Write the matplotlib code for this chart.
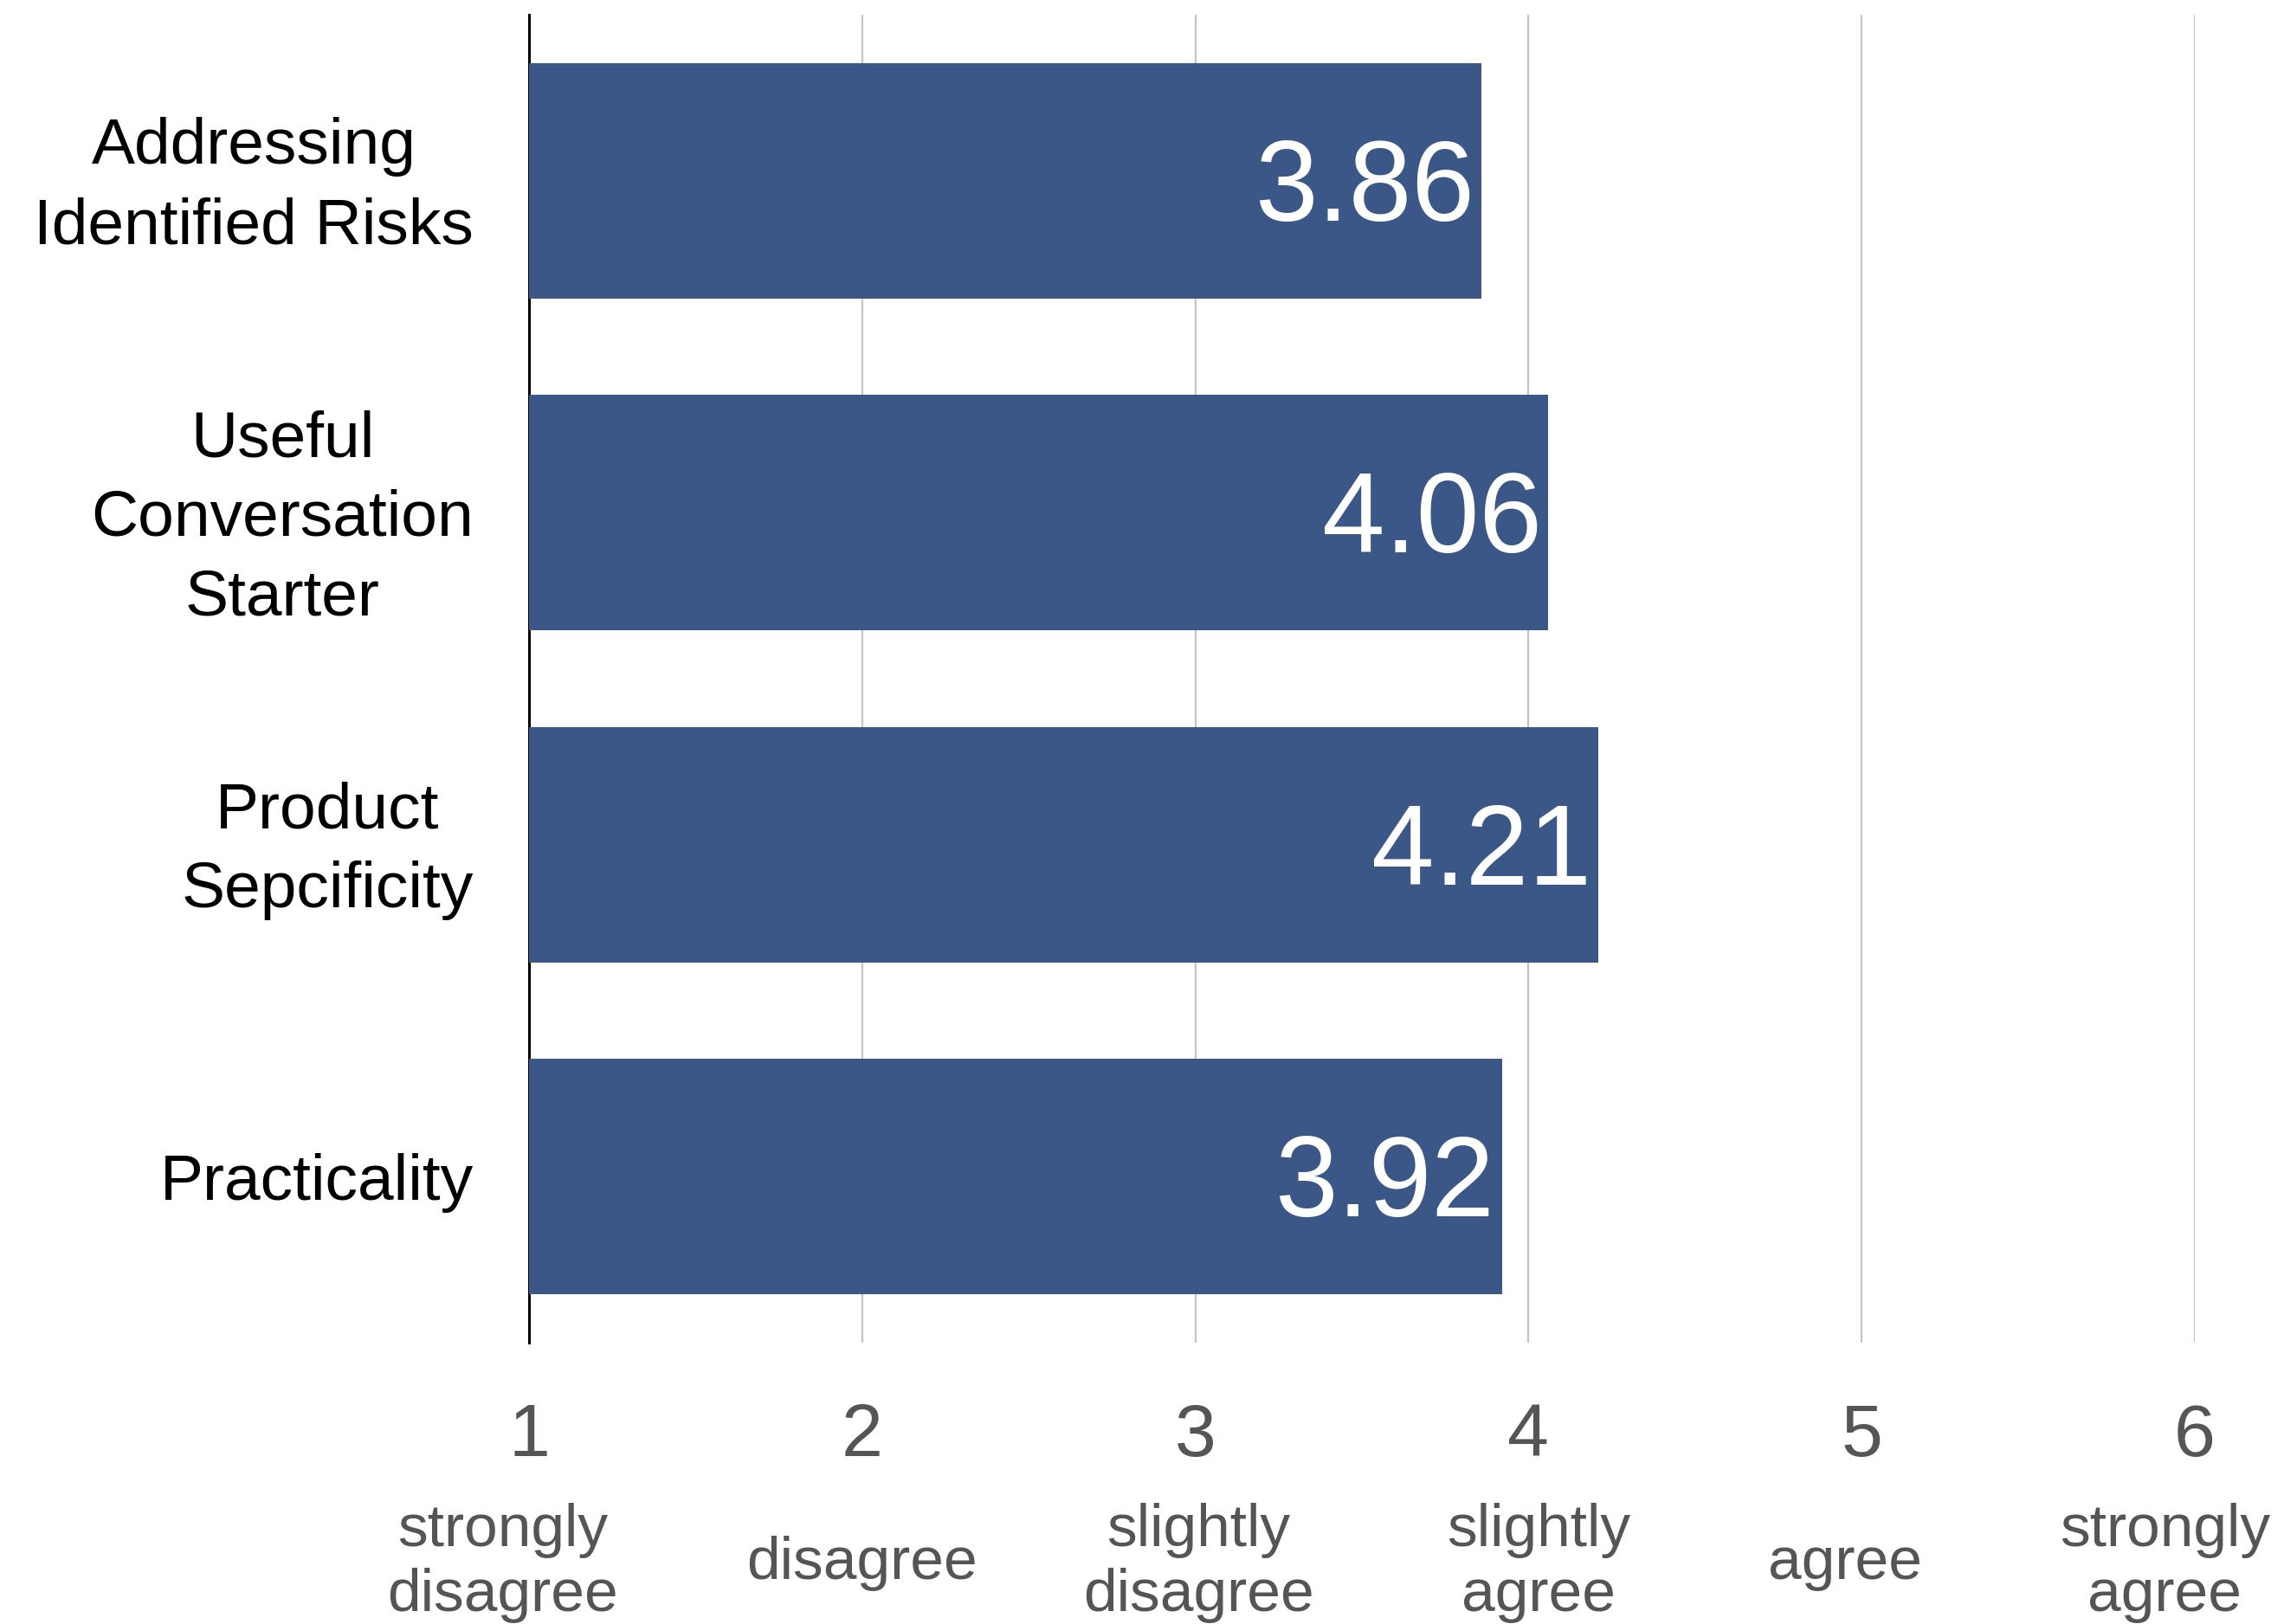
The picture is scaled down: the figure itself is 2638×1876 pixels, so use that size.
import matplotlib
matplotlib.use('Agg')
import matplotlib.pyplot as plt
import numpy as np

plt.rcParams['font.family'] = ['Liberation Sans', 'DejaVu Sans']

categories = ['Addressing\nIdentified Risks', 'Useful\nConversation\nStarter',
              'Product\nSepcificity', 'Practicality']
scores = [3.86, 4.06, 4.21, 3.92]
scale_ticks = [1, 2, 3, 4, 5, 6]
scale_names = ['strongly\ndisagree', 'disagree', 'slightly\ndisagree',
               'slightly\nagree', 'agree', 'strongly\nagree']
name_nudge = [-0.08, 0.0, 0.01, 0.03, -0.05, -0.09]

bar_color = '#3a5787'
grey = '#555555'

fig = plt.figure(figsize=(26.38, 18.76), dpi=100)
ax = fig.add_axes([0.2316, 0.1732, 0.7293, 0.8177])

ypos = np.arange(len(categories))
ax.barh(ypos, [s - 1 for s in scores], left=1, height=0.71, color=bar_color, zorder=3)

for y, s in zip(ypos, scores):
    ax.text(s - 0.02, y + 0.03, f'{s:.2f}', ha='right', va='center',
            color='white', fontsize=94, zorder=4)

ax.set_xlim(1, 6)
ax.set_ylim(len(categories) - 0.5, -0.5)

# category labels, drawn by hand so multi-line blocks sit centred on the bars
ax.set_yticks([])
for y, cat in zip(ypos, categories):
    ax.text(-0.0333, y + 0.018, cat, transform=ax.get_yaxis_transform(),
            ha='right', va='center', multialignment='center',
            fontsize=54, color='black', linespacing=1.42)

ax.set_xticks(scale_ticks)
ax.set_xticklabels([])
ax.tick_params(axis='x', length=0)
for x, name, dx in zip(scale_ticks, scale_names, name_nudge):
    ax.text(x, -0.071, str(x), transform=ax.get_xaxis_transform(),
            ha='center', va='center', fontsize=62, color=grey)
    ax.text(x + dx, -0.166, name, transform=ax.get_xaxis_transform(),
            ha='center', va='center', fontsize=50, color=grey, linespacing=1.21)

ax.grid(axis='x', color='#c4c4c4', linewidth=1.6, zorder=0)
ax.set_axisbelow(True)
for side in ['top', 'right', 'bottom']:
    ax.spines[side].set_visible(False)
ax.spines['left'].set_linewidth(2.2)
ax.spines['left'].set_color('black')

fig.savefig('out.png', dpi=100, facecolor='white')
